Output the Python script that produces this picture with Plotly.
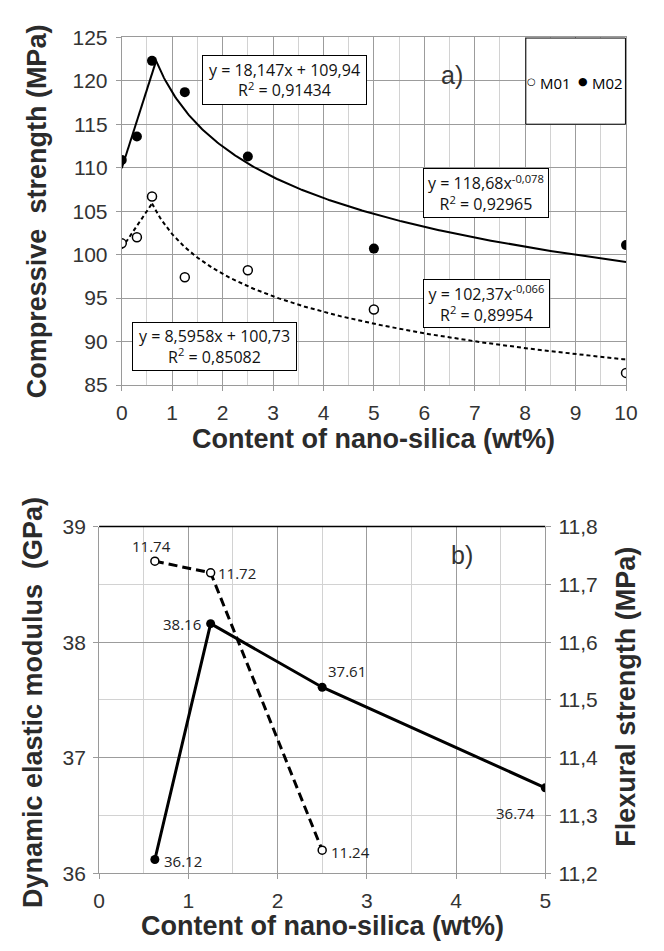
import numpy as np
import plotly.graph_objects as go

# ---- Panel a: compressive strength vs nano-silica content ----
content_a = [0, 0.3, 0.6, 1.25, 2.5, 5, 10]
m01 = [101.3, 102.0, 106.7, 97.4, 98.2, 93.7, 86.4]
m02 = [110.9, 113.6, 122.3, 118.7, 111.3, 100.7, 101.1]

# fitted trend lines: (slope, intercept, R2) and (coef, exponent, R2)
m01_lin = (8.5958, 100.73, 0.85082)
m01_pow = (102.37, -0.066, 0.89954)
m02_lin = (18.147, 109.94, 0.91434)
m02_pow = (118.68, -0.078, 0.92965)

# ---- Panel b: dynamic elastic modulus and flexural strength ----
content_mod = [0.625, 1.25, 2.5, 5]
modulus = [36.12, 38.16, 37.61, 36.74]
content_flex = [0.625, 1.25, 2.5]
flexural = [11.74, 11.72, 11.24]

W, H = 664, 951
TICK_FONT = dict(family="Liberation Sans, Arial", size=21, color="#333333")
TITLE_FONT = dict(family="Liberation Sans, Arial", size=27, color="#2b2b2b", weight="bold")
EQ_FONT = dict(family="Open Sans", size=16, color="#111111")
LBL_FONT = dict(family="Open Sans", size=15, color="#222222")
MAJOR_GRID = "#9c9c9c"
MINOR_GRID = "#d2d2d2"
AXIS_LINE = "#9a9a9a"


def px(xp, yp):
    """pixel position -> paper coordinates"""
    return xp / W, 1 - yp / H


def comma(v, nd):
    return f"{v:.{nd}f}".replace(".", ",")


def split_fit(lin, pw, x_end):
    """linear branch up to where it meets the power branch, then the power law"""
    grid = np.linspace(0.05, 2, 4000)
    diff = (lin[0] * grid + lin[1]) - pw[0] * grid ** pw[1]
    xi = grid[np.argmax(diff >= 0)]
    xl = np.linspace(0, xi, 20)
    xp = np.linspace(xi, x_end, 300)
    return xl, lin[0] * xl + lin[1], xp, pw[0] * xp ** pw[1]


fig = go.Figure()

# trend curves
for lin, pw, dash in [(m02_lin, m02_pow, "solid"), (m01_lin, m01_pow, "4px,3px")]:
    xl, yl, xp, yp = split_fit(lin, pw, max(content_a))
    for xs, ys in [(xl, yl), (xp, yp)]:
        fig.add_trace(go.Scatter(x=xs, y=ys, mode="lines", xaxis="x", yaxis="y",
                                 line=dict(color="black", width=2, dash=dash),
                                 showlegend=False, hoverinfo="skip"))

fig.add_trace(go.Scatter(x=content_a, y=m01, mode="markers", name="M01", xaxis="x", yaxis="y",
                         marker=dict(size=9, color="white", line=dict(color="black", width=1.5)),
                         showlegend=False))
fig.add_trace(go.Scatter(x=content_a, y=m02, mode="markers", name="M02", xaxis="x", yaxis="y",
                         marker=dict(size=10, color="black"), showlegend=False))

# panel b lines
fig.add_trace(go.Scatter(x=content_mod, y=modulus, mode="lines+markers", xaxis="x2", yaxis="y2",
                         line=dict(color="black", width=3),
                         marker=dict(size=9, color="black"), showlegend=False))
fig.add_trace(go.Scatter(x=content_flex, y=flexural, mode="lines+markers", xaxis="x2", yaxis="y3",
                         line=dict(color="black", width=3, dash="9px,5px"),
                         marker=dict(size=8, color="white", line=dict(color="black", width=1.5)),
                         showlegend=False))

common_axis = dict(showline=True, linecolor=AXIS_LINE, linewidth=1, ticks="outside", ticklen=5,
                   tickcolor=AXIS_LINE, tickfont=TICK_FONT, zeroline=False,
                   showgrid=True, gridcolor=MAJOR_GRID, gridwidth=1)

xa0, ya1 = px(119, 26)
xa1, ya0 = px(637.3, 382.3)
xb0, yb1 = px(95.7, 527.3)
xb1, yb0 = px(554.3, 882.7)

fig.update_layout(
    width=W, height=H, margin=dict(l=0, r=0, t=0, b=0),
    paper_bgcolor="white", plot_bgcolor="white", separators=", ",
    xaxis=dict(common_axis, domain=[xa0, xa1], anchor="y", range=[0, 10], dtick=1, tick0=0,
               mirror=True, ticklabelstandoff=4,
               minor=dict(dtick=0.5, showgrid=True, gridcolor=MINOR_GRID, ticks="")),
    yaxis=dict(common_axis, domain=[ya0, ya1], anchor="x", range=[85, 125], dtick=5, tick0=85,
               mirror=True, ticklabelstandoff=4),
    xaxis2=dict(common_axis, domain=[xb0, xb1], anchor="y2", range=[0, 5], dtick=1, tick0=0,
                ticklabelstandoff=3,
                minor=dict(dtick=0.5, showgrid=True, gridcolor=MINOR_GRID, ticks="")),
    yaxis2=dict(common_axis, domain=[yb0, yb1], anchor="x2", range=[36, 39], dtick=1, tick0=36,
                ticklabelstandoff=3,
                minor=dict(dtick=0.5, showgrid=True, gridcolor=MINOR_GRID, ticks="")),
    yaxis3=dict(common_axis, overlaying="y2", side="right", anchor="x2", range=[11.2, 11.8],
                dtick=0.1, tick0=11.2, tickformat=".1f", showgrid=False, ticklabelstandoff=3),
)

# black top frame of panel b
fig.add_shape(type="line", xref="x2 domain", yref="y2 domain", x0=0, x1=1, y0=1, y1=1,
              line=dict(color="black", width=1.5), layer="above")

ann = []

# axis titles
for text, (x, y), ang in [
    ("Compressive\u00a0\u00a0strength (MPa)", px(32, 204), -90),
    ("Content of nano-silica (wt%)", px(378, 438), 0),
    ("Dynamic elastic modulus\u00a0\u00a0(GPa)", px(28, 708), -90),
    ("Flexural strength (MPa)", px(637, 702), -90),
    ("Content of nano-silica (wt%)", px(325, 937), 0),
]:
    ann.append(dict(text=text, x=x, y=y, xref="paper", yref="paper", showarrow=False,
                    textangle=ang, font=TITLE_FONT, xanchor="center", yanchor="middle"))

# panel tags
for text, (x, y) in [("a)", px(471.5, 48)), ("b)", px(482.5, 556))]:
    ann.append(dict(text=text, x=x, y=y, xref="paper", yref="paper", showarrow=False,
                    font=dict(family="Liberation Sans, Arial", size=25, color="#333333")))

# trend equations in boxed labels
eq_boxes = [
    (f"y = {comma(m02_lin[0], 3)}x + {comma(m02_lin[1], 2)}<br>R<sup>2</sup> = {comma(m02_lin[2], 5)}",
     (286.3, 69.3), 161, 46),
    (f"y = {comma(m02_pow[0], 2)}x<sup>{comma(m02_pow[1], 3)}</sup><br>R<sup>2</sup> = {comma(m02_pow[2], 5)}",
     (493.8, 185), 122, 46),
    (f"y = {comma(m01_pow[0], 2)}x<sup>{comma(m01_pow[1], 3)}</sup><br>R<sup>2</sup> = {comma(m01_pow[2], 5)}",
     (493.4, 298.3), 123, 45),
    (f"y = {comma(m01_lin[0], 4)}x + {comma(m01_lin[1], 2)}<br>R<sup>2</sup> = {comma(m01_lin[2], 5)}",
     (214.8, 343), 161, 45),
]
for text, pos, w, h in eq_boxes:
    x, y = px(*pos)
    ann.append(dict(text=text, x=x, y=y, xref="paper", yref="paper", showarrow=False,
                    font=EQ_FONT, bgcolor="white", bordercolor="black", borderwidth=1,
                    borderpad=1, width=w, height=h, align="center",
                    xanchor="center", yanchor="middle"))

# legend box for panel a
lx0, ly1 = px(534.3, 26.7)
lx1, ly0 = px(636.7, 115)
fig.add_shape(type="rect", xref="paper", yref="paper", x0=lx0, x1=lx1, y0=ly0, y1=ly1,
              line=dict(color="black", width=1), fillcolor="white", layer="above")
for text, (x, y), fam, size, xa in [("○", px(546, 71), "DejaVu Sans", 10, "right"),
                                    ("M01", px(548, 73), "Open Sans", 15, "left"),
                                    ("●", px(599, 71), "DejaVu Sans", 11, "right"),
                                    ("M02", px(601, 73), "Open Sans", 15, "left")]:
    ann.append(dict(text=text, x=x, y=y, xref="paper", yref="paper", showarrow=False,
                    xanchor=xa, yanchor="middle", borderpad=0,
                    font=dict(family=fam, size=size, color="black")))

# value labels in panel b
mod_offsets = [("left", "middle", 7, -2), ("right", "middle", -8, 0),
               ("left", "bottom", 4, 4), ("right", "top", -8, -13)]
for xv, yv, (xa, ya, dx, dy) in zip(content_mod, modulus, mod_offsets):
    ann.append(dict(text=f"{yv:.2f}", x=xv, y=yv, xref="x2", yref="y2", showarrow=False,
                    font=LBL_FONT, xanchor=xa, yanchor=ya, xshift=dx, yshift=dy))
flex_offsets = [("center", "bottom", -3, 3), ("left", "middle", 5, 0), ("left", "middle", 7, -2)]
for xv, yv, (xa, ya, dx, dy) in zip(content_flex, flexural, flex_offsets):
    ann.append(dict(text=f"{yv:.2f}", x=xv, y=yv, xref="x2", yref="y3", showarrow=False,
                    font=LBL_FONT, xanchor=xa, yanchor=ya, xshift=dx, yshift=dy))

fig.update_layout(annotations=ann)
fig.write_html("out.html")
